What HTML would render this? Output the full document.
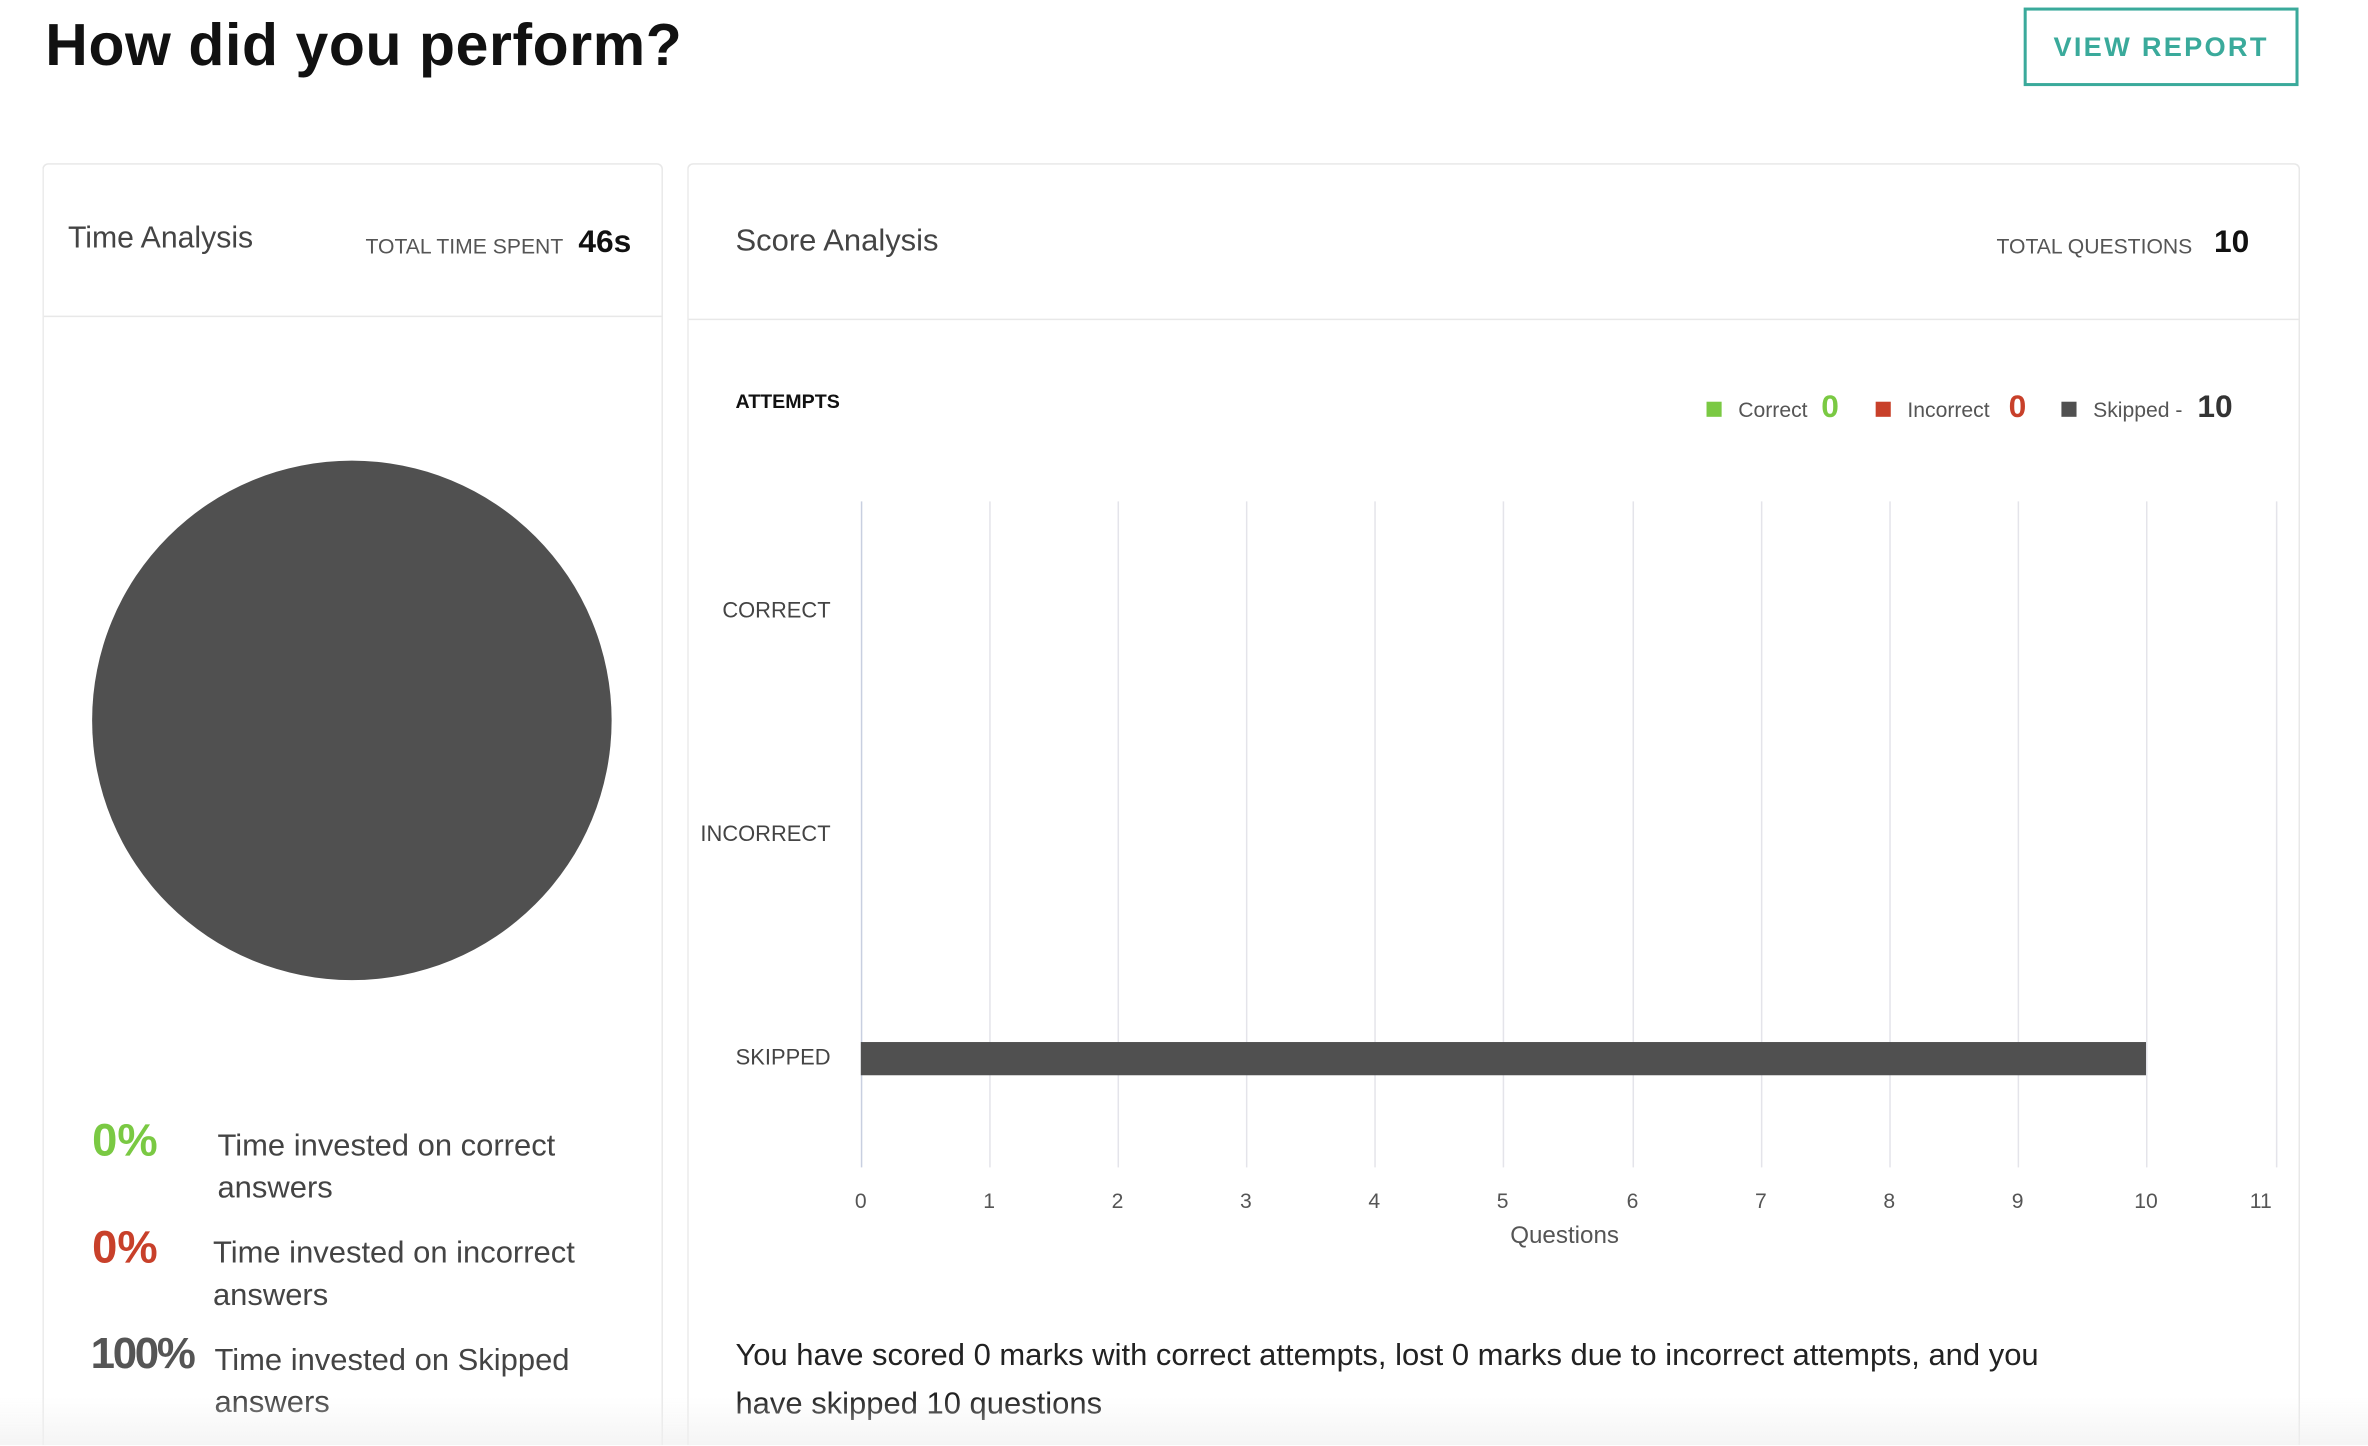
<!DOCTYPE html>
<html><head><meta charset="utf-8"><style>
html,body{margin:0;padding:0;background:#fff;width:2368px;height:1446px;overflow:hidden;}
body{position:relative;}
#s{position:absolute;left:0;top:0;width:1568px;height:957px;overflow:hidden;transform:scale(1.5102);transform-origin:0 0;font-family:"Liberation Sans",sans-serif;}
.a{position:absolute;white-space:nowrap;}
.card{position:absolute;border:1px solid #e8e8e8;border-bottom:none;border-radius:4px 4px 0 0;background:#fff;}
.sm{font-size:14px;color:#555;}
.gl{position:absolute;top:332px;height:441px;width:1px;background:#e4e4ea;}
.tk{position:absolute;top:787px;font-size:14px;color:#555;width:30px;text-align:center;margin-left:-15px;}
.yl{position:absolute;font-size:14.5px;color:#444;right:1018px;}
</style></head><body><div id="s">
<div class="a" style="left:30px;top:9px;font-size:39px;font-weight:bold;color:#111;letter-spacing:0.4px;">How did you perform?</div>
<div class="a" style="left:1340px;top:5px;width:178px;height:48px;border:2px solid #3aaa9b;color:#3aaa9b;font-size:18px;font-weight:bold;letter-spacing:1.5px;text-align:center;line-height:48px;">VIEW REPORT</div>

<div class="card" style="left:28px;top:108px;width:409px;height:848px;"></div>
<div class="a" style="left:29px;top:209px;width:409px;height:1px;background:#e8e8e8;"></div>
<div class="a" style="left:45px;top:147px;font-size:20px;color:#444;">Time Analysis</div>
<div class="a sm" style="left:242px;top:155px;">TOTAL TIME SPENT</div>
<div class="a" style="left:383px;top:149px;font-size:21px;font-weight:bold;color:#111;">46s</div>
<div class="a" style="left:61px;top:305px;width:344px;height:344px;border-radius:50%;background:#505050;"></div>
<div class="a" style="left:61px;top:739px;font-size:30px;font-weight:bold;color:#7ac943;">0%</div>
<div class="a" style="left:144px;top:745px;font-size:20.5px;color:#444;line-height:28px;">Time invested on correct<br>answers</div>
<div class="a" style="left:61px;top:810px;font-size:30px;font-weight:bold;color:#c8402a;">0%</div>
<div class="a" style="left:141px;top:816px;font-size:20.5px;color:#444;line-height:28px;">Time invested on incorrect<br>answers</div>
<div class="a" style="left:60px;top:881px;font-size:29px;font-weight:bold;color:#555;letter-spacing:-1.5px;">100%</div>
<div class="a" style="left:142px;top:887px;font-size:20.5px;color:#444;line-height:28px;">Time invested on Skipped<br>answers</div>

<div class="card" style="left:455px;top:108px;width:1066px;height:848px;"></div>
<div class="a" style="left:456px;top:211px;width:1066px;height:1px;background:#e8e8e8;"></div>
<div class="a" style="left:487px;top:148px;font-size:20.5px;color:#444;">Score Analysis</div>
<div class="a sm" style="left:1322px;top:155px;">TOTAL QUESTIONS</div>
<div class="a" style="left:1466px;top:149px;font-size:21px;font-weight:bold;color:#111;">10</div>
<div class="a" style="left:487px;top:258px;font-size:13px;font-weight:bold;color:#111;">ATTEMPTS</div>
<div class="a" style="left:1130px;top:266px;width:10px;height:10px;background:#7ac943;"></div>
<div class="a sm" style="left:1151px;top:263px;">Correct</div>
<div class="a" style="left:1206px;top:258px;font-size:21px;font-weight:bold;color:#7ac943;">0</div>
<div class="a" style="left:1242px;top:266px;width:10px;height:10px;background:#c8402a;"></div>
<div class="a sm" style="left:1263px;top:263px;">Incorrect</div>
<div class="a" style="left:1330px;top:258px;font-size:21px;font-weight:bold;color:#c8402a;">0</div>
<div class="a" style="left:1365px;top:266px;width:10px;height:10px;background:#505050;"></div>
<div class="a sm" style="left:1386px;top:263px;">Skipped -</div>
<div class="a" style="left:1455px;top:258px;font-size:21px;font-weight:bold;color:#333;">10</div>

<div class="gl" style="left:570px;background:#c8cfe0;"></div>
<div class="gl" style="left:655px;"></div><div class="gl" style="left:740px;"></div>
<div class="gl" style="left:825px;"></div><div class="gl" style="left:910px;"></div>
<div class="gl" style="left:995px;"></div><div class="gl" style="left:1081px;"></div>
<div class="gl" style="left:1166px;"></div><div class="gl" style="left:1251px;"></div>
<div class="gl" style="left:1336px;"></div><div class="gl" style="left:1421px;"></div>
<div class="gl" style="left:1507px;"></div>
<div class="yl" style="top:397px;">CORRECT</div>
<div class="yl" style="top:545px;">INCORRECT</div>
<div class="yl" style="top:693px;">SKIPPED</div>
<div class="a" style="left:570px;top:690px;width:851px;height:22px;background:#505050;"></div>
<div class="tk" style="left:570px;">0</div><div class="tk" style="left:655px;">1</div>
<div class="tk" style="left:740px;">2</div><div class="tk" style="left:825px;">3</div>
<div class="tk" style="left:910px;">4</div><div class="tk" style="left:995px;">5</div>
<div class="tk" style="left:1081px;">6</div><div class="tk" style="left:1166px;">7</div>
<div class="tk" style="left:1251px;">8</div><div class="tk" style="left:1336px;">9</div>
<div class="tk" style="left:1421px;">10</div><div class="tk" style="left:1497px;">11</div>
<div class="a" style="left:1000px;top:810px;font-size:16px;color:#555;">Questions</div>
<div class="a" style="left:487px;top:882px;font-size:20.5px;color:#222;line-height:32px;">You have scored 0 marks with correct attempts, lost 0 marks due to incorrect attempts, and you<br>have skipped 10 questions</div>
<div class="a" style="left:0;top:925px;width:1568px;height:32px;background:linear-gradient(rgba(245,245,245,0),rgba(240,240,240,0.7));"></div>
</div></body></html>
